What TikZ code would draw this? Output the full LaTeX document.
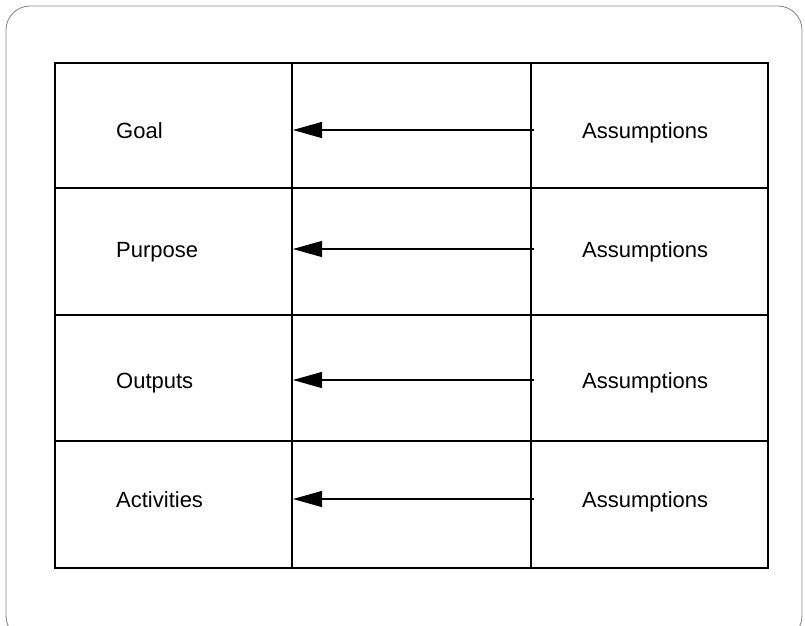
\documentclass[tikz,border=0pt]{standalone}
\usepackage{fontspec}
\setmainfont{Liberation Sans}
\usetikzlibrary{arrows.meta}
\begin{document}
\begin{tikzpicture}[x=1pt,y=-1pt,
  grid/.style={line width=1.8pt,black},
  lbl/.style={anchor=base west,inner sep=0pt,font=\fontsize{22}{24}\selectfont},
  arr/.style={line width=1.1pt,-{Triangle[length=29pt,width=16pt]}},
  frame/.style={draw=black!45,line width=0.9pt,rounded corners=24pt}]
\useasboundingbox (0,0) rectangle (805,625);
\draw[frame] (6,6) rectangle (802,640);
% table
\draw[grid] (55,63) rectangle (768,568);
\foreach \yy in {188,315,441} \draw[grid] (55,\yy) -- (768,\yy);
\foreach \xx in {292,531} \draw[grid] (\xx,63) -- (\xx,568);
% labels
\node[lbl] (goal) at (116,138.5) {Goal};
\node[lbl] (purpose) at (116,257.5) {Purpose};
\node[lbl] (outputs) at (116,388.5) {Outputs};
\node[lbl] (activities) at (116,507.5) {Activities};
\node[lbl] (as1) at (582,138.5) {Assumptions};
\node[lbl] (as2) at (582,257.5) {Assumptions};
\node[lbl] (as3) at (582,388.5) {Assumptions};
\node[lbl] (as4) at (582,507.5) {Assumptions};
% arrow ends
\coordinate (s1) at (534,130); \coordinate (t1) at (293,130);
\coordinate (s2) at (534,249); \coordinate (t2) at (293,249);
\coordinate (s3) at (534,380); \coordinate (t3) at (293,380);
\coordinate (s4) at (534,499); \coordinate (t4) at (293,499);
\draw[arr] (s1) -- (t1);
\draw[arr] (s2) -- (t2);
\draw[arr] (s3) -- (t3);
\draw[arr] (s4) -- (t4);
\end{tikzpicture}
\end{document}
